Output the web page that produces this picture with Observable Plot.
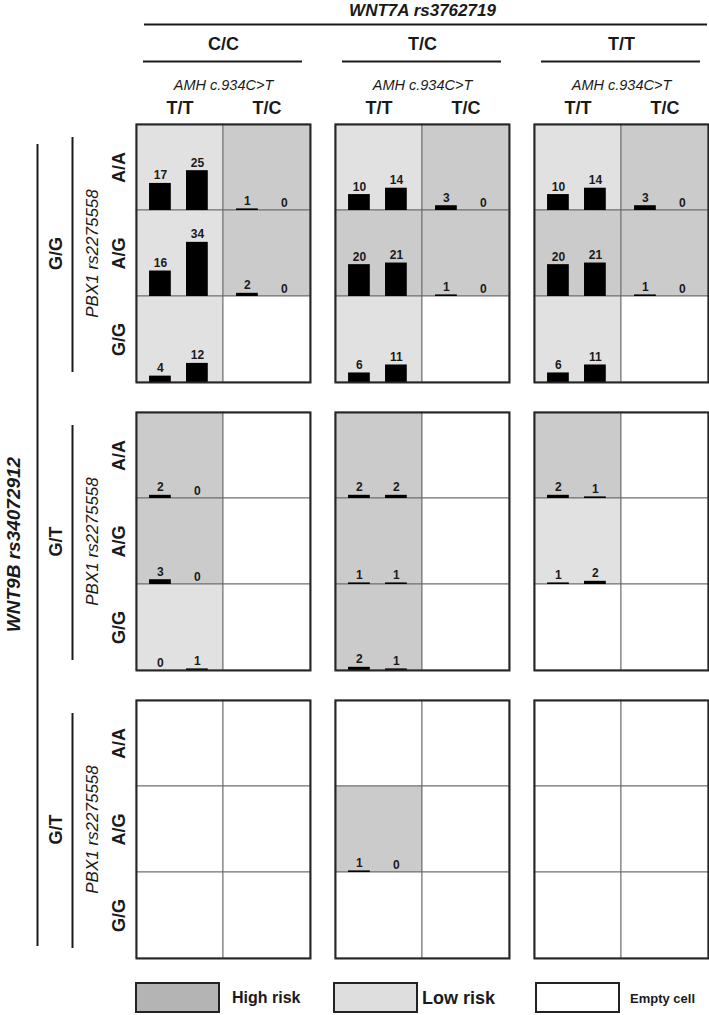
<!DOCTYPE html>
<html>
<head>
<meta charset="utf-8">
<script src="https://cdn.jsdelivr.net/npm/d3@7"></script>
<script src="https://cdn.jsdelivr.net/npm/@observablehq/plot@0.6"></script>
<style>
  body { margin: 0; background: #fff; font-family: "Liberation Sans", Arial, sans-serif; }
  #wrap { position: relative; width: 709px; height: 1015px; }
  #chart svg { display: block; }
  .lg-box { position: absolute; top: 982px; width: 81px; height: 27px; border: 2px solid #222; }
  .lg-label { position: absolute; top: 998px; transform: translateY(-50%); font-weight: bold; color: #1a1a1a; white-space: nowrap; }
</style>
</head>
<body>
<div id="wrap"><div id="chart"></div></div>
<script>
// ---------- data ----------
const wnt7aGenotypes = ["C/C", "T/C", "T/T"];          // panel columns (WNT7A rs3762719)
const wnt9bGroupLabels = ["G/G", "G/T", "G/T"];         // panel rows (WNT9B rs34072912), as printed
const amhGenotypes = ["T/T", "T/C"];                    // cell columns (AMH c.934C>T)
const pbx1Genotypes = ["A/A", "A/G", "G/G"];            // cell rows (PBX1 rs2275558)
const riskClasses = ["high", "low", "empty"];
const riskLabels = ["High risk", "Low risk", "Empty cell"];

// indices: [WNT9B group][WNT7A][PBX1][AMH]; null = no bars
const caseCounts = [
  [[[17, 1], [16, 2], [4, null]],   [[10, 3], [20, 1], [6, null]],   [[10, 3], [20, 1], [6, null]]],
  [[[2, null], [3, null], [0, null]], [[2, null], [1, null], [2, null]], [[2, null], [1, null], [null, null]]],
  [[[null, null], [null, null], [null, null]], [[null, null], [1, null], [null, null]], [[null, null], [null, null], [null, null]]]
];
const controlCounts = [
  [[[25, 0], [34, 0], [12, null]],  [[14, 0], [21, 0], [11, null]],  [[14, 0], [21, 0], [11, null]]],
  [[[0, null], [0, null], [1, null]], [[2, null], [1, null], [1, null]], [[1, null], [2, null], [null, null]]],
  [[[null, null], [null, null], [null, null]], [[null, null], [0, null], [null, null]], [[null, null], [null, null], [null, null]]]
];
const cellRisk = [
  [[["low", "high"], ["low", "high"], ["low", "empty"]],
   [["low", "high"], ["high", "high"], ["low", "empty"]],
   [["low", "high"], ["high", "high"], ["low", "empty"]]],
  [[["high", "empty"], ["high", "empty"], ["low", "empty"]],
   [["high", "empty"], ["high", "empty"], ["high", "empty"]],
   [["high", "empty"], ["low", "empty"], ["empty", "empty"]]],
  [[["empty", "empty"], ["empty", "empty"], ["empty", "empty"]],
   [["empty", "empty"], ["high", "empty"], ["empty", "empty"]],
   [["empty", "empty"], ["empty", "empty"], ["empty", "empty"]]]
];

// ---------- layout constants ----------
const CELL_MAX = 54;            // count that fills one cell's height
const BAR_START = [0.15, 0.575];
const BAR_WIDTH = 0.25;
const cellColors = ["#cbcbcb", "#e1e1e1", "#ffffff"];
const legendColors = ["#b4b4b4", "#dedede", "#ffffff"];

// ---------- build tables ----------
const cells = [], bars = [];
wnt9bGroupLabels.forEach((_, g) =>
  wnt7aGenotypes.forEach((w, wi) =>
    pbx1Genotypes.forEach((_, p) =>
      amhGenotypes.forEach((_, a) => {
        cells.push({g, w, p, a, risk: cellRisk[g][wi][p][a]});
        [caseCounts[g][wi][p][a], controlCounts[g][wi][p][a]].forEach((v, s) => {
          if (v != null) bars.push({g, w, p, a, s, v});
        });
      }))));

const base = d => (2 - d.p) * CELL_MAX;
const TOP = 3 * CELL_MAX;
const topRow = wnt7aGenotypes.map(w => ({w, g: 0}));
const amhCols = wnt7aGenotypes.flatMap(w => amhGenotypes.map((t, a) => ({w, g: 0, a, t})));
const leftGroups = wnt9bGroupLabels.map((t, g) => ({w: "C/C", g, t}));
const leftRows = wnt9bGroupLabels.flatMap((_, g) => pbx1Genotypes.map((t, p) => ({w: "C/C", g, p, t})));

const bold = {fontWeight: "bold"};
const chart = Plot.plot({
  width: 709,
  height: 968,
  marginTop: 123,
  marginBottom: 8,
  marginLeft: 135,
  marginRight: 1,
  style: {fontFamily: "'Liberation Sans', Arial, sans-serif", color: "#1a1a1a", background: "#fff"},
  fx: {domain: wnt7aGenotypes, axis: null, paddingInner: 0.128, paddingOuter: 0},
  fy: {domain: [0, 1, 2], axis: null, paddingInner: 0.1038, paddingOuter: 0},
  x: {domain: [0, 2], axis: null},
  y: {domain: [0, TOP], axis: null},
  color: {type: "ordinal", domain: riskClasses, range: cellColors},
  marks: [
    Plot.rect(cells, {fx: "w", fy: "g", x1: d => d.a, x2: d => d.a + 1, y1: base, y2: d => base(d) + CELL_MAX,
      fill: "risk", stroke: "#6e6e6e", strokeWidth: 1}),
    Plot.rect(bars, {fx: "w", fy: "g", x1: d => d.a + BAR_START[d.s], x2: d => d.a + BAR_START[d.s] + BAR_WIDTH,
      y1: base, y2: d => base(d) + d.v, fill: "#000"}),
    Plot.text(bars, {fx: "w", fy: "g", x: d => d.a + BAR_START[d.s] + BAR_WIDTH / 2, y: d => base(d) + d.v,
      text: d => String(d.v), lineAnchor: "bottom", dy: -4, fontSize: 12, ...bold}),
    Plot.frame({stroke: "#262626", strokeWidth: 2}),
    // header
    Plot.text([{w: "T/C", g: 0}], {fx: "w", fy: "g", x: 1, y: TOP, dy: -114, text: () => "WNT7A rs3762719",
      fontSize: 17, fontStyle: "italic", ...bold}),
    Plot.ruleY([{w: "T/C", g: 0}], {fx: "w", fy: "g", y: TOP, dy: -100, insetLeft: -191, insetRight: -198,
      stroke: "#1a1a1a", strokeWidth: 2}),
    Plot.text(topRow, {fx: "w", fy: "g", x: 1, y: TOP, dy: -80, text: "w", fontSize: 18, ...bold}),
    Plot.ruleY(topRow, {fx: "w", fy: "g", y: TOP, dy: -63, insetLeft: 7, insetRight: 8, stroke: "#1a1a1a", strokeWidth: 2}),
    Plot.text(topRow, {fx: "w", fy: "g", x: 1, y: TOP, dy: -39, text: () => "AMH c.934C>T", fontSize: 14.5, fontStyle: "italic"}),
    Plot.text(amhCols, {fx: "w", fy: "g", x: d => d.a + 0.5, y: TOP, dy: -16, text: "t", fontSize: 18, ...bold}),
    // left side
    Plot.ruleX([{w: "C/C", g: 1}], {fx: "w", fy: "g", x: 0, dx: -99, insetTop: -268, insetBottom: -276,
      stroke: "#1a1a1a", strokeWidth: 2}),
    Plot.text([{w: "C/C", g: 1}], {fx: "w", fy: "g", x: 0, y: TOP / 2, dx: -123, dy: 3, rotate: -90,
      text: () => "WNT9B rs34072912", fontSize: 19, fontStyle: "italic", ...bold}),
    Plot.ruleX(leftGroups, {fx: "w", fy: "g", x: 0, dx: -64, insetTop: 13, insetBottom: 10, stroke: "#1a1a1a", strokeWidth: 2}),
    Plot.text(leftGroups, {fx: "w", fy: "g", x: 0, y: TOP / 2, dx: -80, rotate: -90, text: "t", fontSize: 18, ...bold}),
    Plot.text(leftGroups, {fx: "w", fy: "g", x: 0, y: TOP / 2, dx: -44, rotate: -90, text: () => "PBX1 rs2275558",
      fontSize: 17, fontStyle: "italic"}),
    Plot.text(leftRows, {fx: "w", fy: "g", x: 0, y: d => base(d) + CELL_MAX / 2, dx: -17, rotate: -90, text: "t",
      fontSize: 18, ...bold})
  ]
});
document.getElementById("chart").appendChild(chart);

// ---------- legend (below the SVG) ----------
const wrap = document.getElementById("wrap");
const legendBoxLeft = [135, 333, 535];
const legendTextLeft = [232, 422, 630];
const legendTextSize = [16, 18, 13];
riskClasses.forEach((r, i) => {
  const box = document.createElement("div");
  box.className = "lg-box";
  box.style.left = legendBoxLeft[i] + "px";
  box.style.background = legendColors[i];
  wrap.appendChild(box);
  const lab = document.createElement("div");
  lab.className = "lg-label";
  lab.style.left = legendTextLeft[i] + "px";
  lab.style.fontSize = legendTextSize[i] + "px";
  lab.textContent = riskLabels[i];
  wrap.appendChild(lab);
});
</script>
</body>
</html>
